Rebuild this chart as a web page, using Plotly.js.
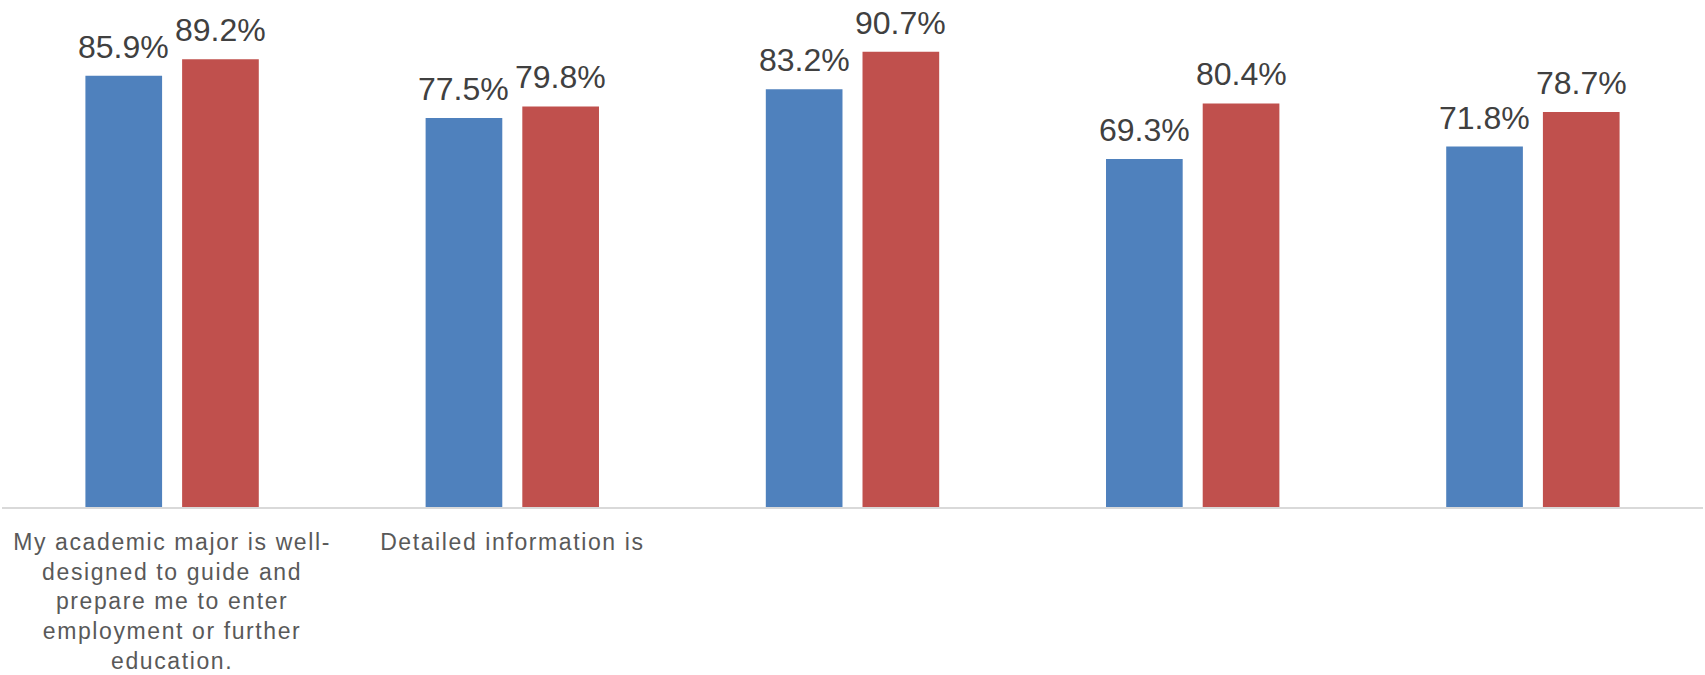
<!DOCTYPE html>
<html>
<head>
<meta charset="utf-8">
<script src="https://cdn.plot.ly/plotly-3.0.1.min.js"></script>
<style>
html,body{margin:0;padding:0;background:#fff;}
#chart{width:1705px;height:675px;}
#chart .xtick text{letter-spacing:1.6px;}
</style>
</head>
<body>
<div id="chart"></div>
<script>
// Category labels (as visible in the reference; others are cut off)
const categoryLabels = [
  "My academic major is well-<br>designed to guide and<br>prepare me to enter<br>employment or further<br>education.",
  "Detailed information is",
  "",
  "",
  ""
];
const seriesNames = ["Series 1", "Series 2"];
const series1Values = [85.9, 77.5, 83.2, 69.3, 71.8];
const series2Values = [89.2, 79.8, 90.7, 80.4, 78.7];
const seriesColors = ["#4F81BD", "#C0504D"];

const xIdx = categoryLabels.map((_, i) => i);
const allSeries = [series1Values, series2Values];

const traces = allSeries.map((vals, s) => ({
  type: "bar",
  name: seriesNames[s],
  x: xIdx,
  y: vals,
  marker: {color: seriesColors[s]},
  hoverinfo: "skip"
}));

const barShiftPx = 48.4;
const annotations = [];
allSeries.forEach((vals, s) => {
  vals.forEach((v, i) => {
    annotations.push({
      x: i, y: v, xref: "x", yref: "y",
      xshift: (s === 0 ? -1 : 1) * barShiftPx,
      yshift: 9,
      yanchor: "bottom",
      text: v.toFixed(1) + "%",
      showarrow: false,
      font: {family: "Liberation Sans, Arial, sans-serif", size: 32, color: "#404040"}
    });
  });
});

const layout = {
  width: 1705,
  height: 675,
  margin: {l: 2, r: 2, t: 5, b: 168},
  paper_bgcolor: "#ffffff",
  plot_bgcolor: "#ffffff",
  showlegend: false,
  barmode: "group",
  bargap: 0.4315,
  bargroupgap: 0.207,
  xaxis: {
    type: "linear",
    range: [-0.5, 4.5],
    tickmode: "array",
    tickvals: xIdx,
    ticktext: categoryLabels,
    showgrid: false,
    zeroline: false,
    showline: true,
    linecolor: "#D9D9D9",
    linewidth: 2,
    ticks: "",
    ticklabelstandoff: 13,
    tickfont: {family: "Liberation Sans, Arial, sans-serif", size: 23, color: "#595959"}
  },
  yaxis: {
    range: [0, 100],
    visible: false,
    showgrid: false,
    zeroline: false
  },
  annotations: annotations
};

Plotly.newPlot("chart", traces, layout, {displayModeBar: false, staticPlot: true});
</script>
</body>
</html>
